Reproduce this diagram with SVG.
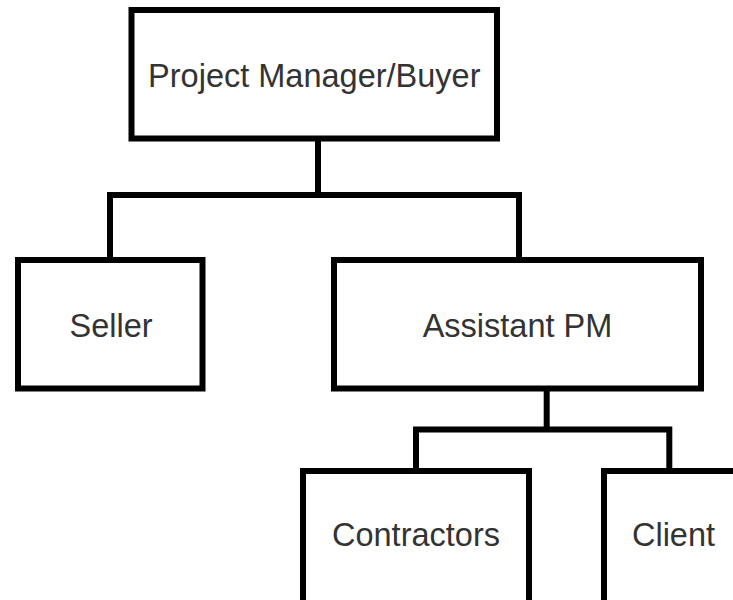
<svg xmlns="http://www.w3.org/2000/svg" width="733" height="600" viewBox="0 0 733 600">
<style>
.box{fill:#fff;stroke:#000;stroke-width:6}
.lbl{font-family:"Liberation Sans",Arial,sans-serif;font-size:32.5px;fill:#333;text-anchor:middle}
.conn{fill:none;stroke:#000;stroke-width:6;stroke-linejoin:miter;stroke-linecap:square}
</style>
<rect width="733" height="600" fill="#fff"/>
<g id="connectors">
<path class="conn" d="M318,138.5 V195 M110,260 V195 H519 V260"/>
<path class="conn" d="M546.7,388.5 V429.5 M416,471 V429.5 H669.3 V471"/>
</g>
<g id="pm-buyer">
<rect class="box" x="131.5" y="10" width="365.5" height="128.5"/>
<text class="lbl" x="314.3" y="87">Project Manager/Buyer</text>
</g>
<g id="seller">
<rect class="box" x="18" y="260" width="184.5" height="128.5"/>
<text class="lbl" x="111" y="336.5">Seller</text>
</g>
<g id="assistant-pm">
<rect class="box" x="334" y="260" width="367" height="128.5"/>
<text class="lbl" x="517.5" y="337">Assistant PM</text>
</g>
<g id="contractors">
<rect class="box" x="303" y="471" width="226" height="140"/>
<text class="lbl" x="416" y="545.5">Contractors</text>
</g>
<g id="client">
<rect class="box" x="604" y="471" width="140" height="140"/>
<text class="lbl" x="673.5" y="545.5">Client</text>
</g>
</svg>
